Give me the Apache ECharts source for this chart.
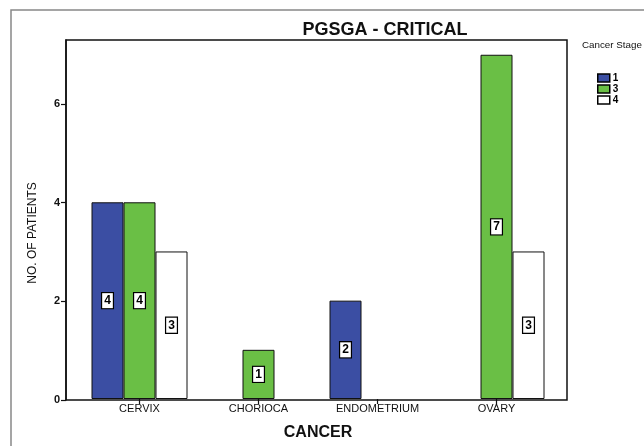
<!DOCTYPE html>
<html>
<head>
<meta charset="utf-8">
<script src="https://cdn.jsdelivr.net/npm/echarts@6/dist/echarts.min.js"></script>
<style>
html,body{margin:0;padding:0;background:#fff;}
#chart{width:644px;height:446px;}
</style>
</head>
<body>
<div id="chart"></div>
<script>
const chartTitle = 'PGSGA - CRITICAL';
const legendTitle = 'Cancer Stage';
const categories = ['CERVIX', 'CHORIOCA', 'ENDOMETRIUM', 'OVARY'];
const stageNames = ['1', '3', '4'];
const stage1 = [4, null, 2, null];
const stage3 = [4, 1, null, 7];
const stage4 = [3, null, null, 3];
const yTicks = [0, 2, 4, 6];
const yMax = 7.3;
const colors = ['#3b4ea3', '#6abf45', '#ffffff'];

const font = 'Liberation Sans, Arial, sans-serif';
const chart = echarts.init(document.getElementById('chart'), null, {renderer: 'canvas'});

const labelStyle = {
  show: true,
  position: 'inside',
  color: '#000',
  fontFamily: font,
  fontSize: 12,
  fontWeight: 'bold',
  backgroundColor: '#fff',
  borderColor: '#000',
  borderWidth: 1.2,
  padding: [2, 2, 1, 2]
};

function mkSeries(name, data, color) {
  return {
    name: name,
    type: 'bar',
    xAxisIndex: 1,
    yAxisIndex: 1,
    data: data,
    barWidth: 32,
    barGap: '0%',
    itemStyle: {color: color, borderColor: '#111', borderWidth: 1},
    label: labelStyle,
    emphasis: {disabled: true}
  };
}

chart.setOption({
  animation: false,
  backgroundColor: '#fff',
  graphic: [{
    type: 'rect',
    shape: {x: 11, y: 10, width: 700, height: 500},
    style: {fill: 'none', stroke: '#888', lineWidth: 1.5},
    z: -1
  }],
  title: [{
    text: chartTitle,
    left: 380,
    top: 16,
    textAlign: 'center',
    textStyle: {fontFamily: font, fontSize: 18, fontWeight: 'bold', color: '#111'}
  }, {
    text: legendTitle,
    left: 582,
    top: 40,
    padding: 0,
    textStyle: {fontFamily: font, fontSize: 9.8, fontWeight: 'normal', color: '#111'}
  }],
  legend: {
    data: stageNames,
    orient: 'vertical',
    left: 597,
    top: 73,
    padding: 0,
    itemWidth: 12,
    itemHeight: 8,
    itemGap: 1,
    icon: 'rect',
    itemStyle: {borderColor: '#000', borderWidth: 1.5},
    textStyle: {fontFamily: font, fontSize: 10, fontWeight: 'bold', lineHeight: 9, color: '#000', padding: [0, 0, 0, -2]},
    selectedMode: false
  },
  grid: [
    {left: 66, right: 77, top: 40, bottom: 46, show: true, borderColor: '#111', borderWidth: 1.5, backgroundColor: 'transparent'},
    {left: 80, right: 88, top: 40, bottom: 46}
  ],
  xAxis: [
    {gridIndex: 0, type: 'category', data: categories, show: false},
    {
      gridIndex: 1, type: 'category', data: categories,
      name: 'CANCER', nameLocation: 'middle', nameGap: 26,
      nameTextStyle: {fontFamily: font, fontSize: 16, fontWeight: 'bold', color: '#111'},
      axisLine: {show: false},
      axisTick: {show: true, alignWithLabel: true, length: 5, lineStyle: {color: '#111', width: 1.2}},
      axisLabel: {fontFamily: font, fontSize: 11, color: '#111', margin: 4},
      splitLine: {show: false}
    }
  ],
  yAxis: [
    {
      gridIndex: 0, type: 'value', min: 0, max: yMax, interval: 2,
      name: 'NO. OF PATIENTS', nameLocation: 'middle', nameGap: 27,
      nameTextStyle: {fontFamily: font, fontSize: 12, color: '#111', padding: [0, 26, 0, 0]},
      axisLine: {show: true, lineStyle: {color: '#111', width: 1.5}},
      axisTick: {show: true, length: 5, customValues: yTicks, lineStyle: {color: '#111', width: 1.2}},
      axisLabel: {fontFamily: font, fontSize: 11, fontWeight: 'bold', color: '#111', margin: 6, customValues: yTicks},
      splitLine: {show: false}
    },
    {gridIndex: 1, type: 'value', min: 0, max: yMax, interval: 2, show: false, splitLine: {show: false}}
  ],
  series: [
    mkSeries(stageNames[0], stage1, colors[0]),
    mkSeries(stageNames[1], stage3, colors[1]),
    mkSeries(stageNames[2], stage4, colors[2])
  ]
});
</script>
</body>
</html>
